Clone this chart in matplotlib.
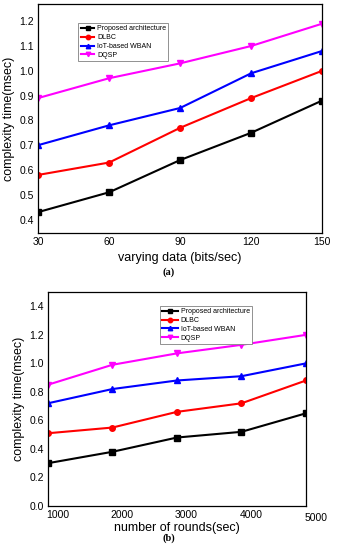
import matplotlib
matplotlib.use("Agg")
import matplotlib.pyplot as plt

plt.rcParams['font.family'] = ['Liberation Sans', 'DejaVu Sans']

# (a) varying data
data_rate = [30, 60, 90, 120, 150]
a_proposed = [0.43, 0.51, 0.64, 0.75, 0.88]
a_dlbc = [0.58, 0.63, 0.77, 0.89, 1.00]
a_wban = [0.70, 0.78, 0.85, 0.99, 1.08]
a_dqsp = [0.89, 0.97, 1.03, 1.10, 1.19]

# (b) number of rounds
rounds = [850, 1850, 2850, 3850, 4850]
b_proposed = [0.30, 0.38, 0.48, 0.52, 0.65]
b_dlbc = [0.51, 0.55, 0.66, 0.72, 0.88]
b_wban = [0.72, 0.82, 0.88, 0.91, 1.00]
b_dqsp = [0.85, 0.99, 1.07, 1.13, 1.20]

labels = ["Proposed architecture", "DLBC", "IoT-based WBAN", "DQSP"]
colors = ["black", "red", "blue", "magenta"]
markers = ["s", "o", "^", "v"]

fig = plt.figure(figsize=(3.37, 5.5), dpi=100)

ax1 = fig.add_axes([0.113, 0.576, 0.843, 0.417])
for ys, lab, c, m in zip([a_proposed, a_dlbc, a_wban, a_dqsp], labels, colors, markers):
    ax1.plot(data_rate, ys, color=c, marker=m, markersize=4, linewidth=1.5, label=lab)
ax1.set_xlim(30, 150)
ax1.set_ylim(0.345, 1.27)
ax1.set_xticks(data_rate)
ax1.set_yticks([0.4, 0.5, 0.6, 0.7, 0.8, 0.9, 1.0, 1.1, 1.2])
ax1.set_yticklabels(["0.4", "0.5", "0.6", "0.7", "0.8", "0.9", "1.0", "1.1", "1.2"])
ax1.tick_params(direction="in", length=0, labelsize=7.5, pad=3)
ax1.set_xlabel("varying data (bits/sec)", fontsize=9, labelpad=3)
ax1.set_ylabel("complexity time(msec)", fontsize=9, labelpad=3)
leg1 = ax1.legend(loc="upper left", bbox_to_anchor=(0.13, 0.93), fontsize=5,
                  handlelength=2.0, markerscale=0.8, borderpad=0.3, labelspacing=0.25,
                  handletextpad=0.4, fancybox=False, edgecolor="gray", framealpha=1)
leg1.get_frame().set_linewidth(0.6)
fig.text(0.5, 0.5, "(a)", fontsize=7.5, fontweight="bold", family="Liberation Serif", ha="center")

ax2 = fig.add_axes([0.142, 0.080, 0.766, 0.389])
for ys, lab, c, m in zip([b_proposed, b_dlbc, b_wban, b_dqsp], labels, colors, markers):
    ax2.plot(rounds, ys, color=c, marker=m, markersize=4, linewidth=1.5, label=lab)
ax2.set_xlim(850, 4850)
ax2.set_ylim(0, 1.5)
ax2.set_xticks([1000, 2000, 3000, 4000])
ax2.set_yticks([0.0, 0.2, 0.4, 0.6, 0.8, 1.0, 1.2, 1.4])
ax2.tick_params(direction="in", length=0, labelsize=7.5, pad=3)
ax2.text(5000, -0.035, "5000", fontsize=7.5, ha="center", va="top",
         transform=ax2.get_xaxis_transform(), clip_on=False)
ax2.set_xlabel("number of rounds(sec)", fontsize=9, labelpad=1)
ax2.set_ylabel("complexity time(msec)", fontsize=9, labelpad=3)
leg2 = ax2.legend(loc="upper left", bbox_to_anchor=(0.42, 0.95), fontsize=5,
                  handlelength=2.4, markerscale=0.8, borderpad=0.3, labelspacing=0.25,
                  handletextpad=0.3, fancybox=False, edgecolor="gray", framealpha=1)
leg2.get_frame().set_linewidth(0.6)
fig.text(0.5, 0.016, "(b)", fontsize=7.5, fontweight="bold", family="Liberation Serif", ha="center")

for ax in (ax1, ax2):
    for sp in ax.spines.values():
        sp.set_linewidth(0.9)

plt.savefig("out.png", dpi=100)
